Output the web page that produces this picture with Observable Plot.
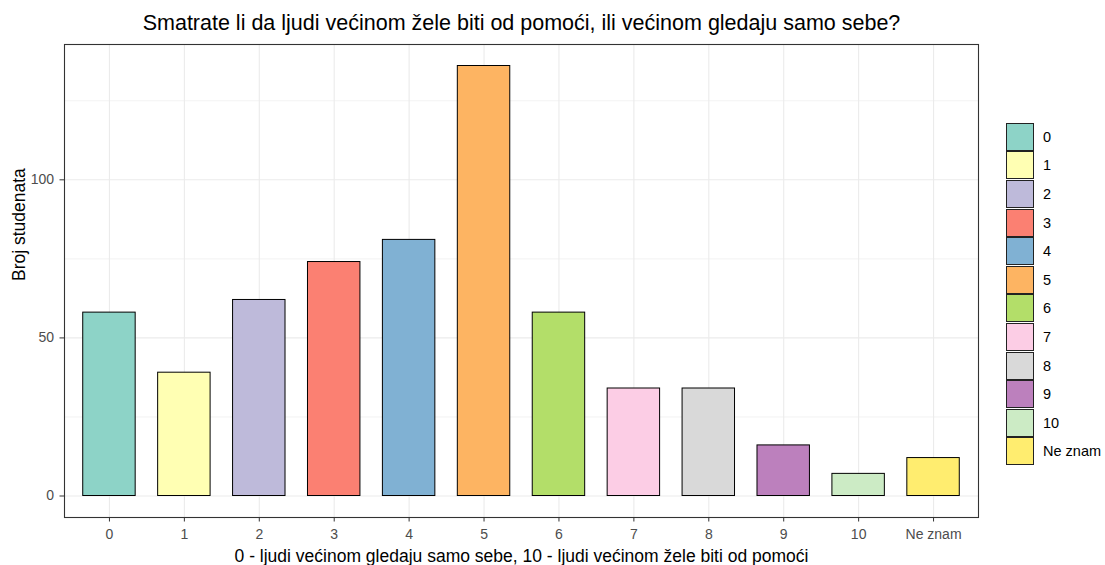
<!DOCTYPE html>
<html><head><meta charset="utf-8">
<script src="https://cdn.jsdelivr.net/npm/d3@7"></script>
<script src="https://cdn.jsdelivr.net/npm/@observablehq/plot@0.6"></script>
<style>
body{margin:0;background:#fff;font-family:"Liberation Sans",Arial,sans-serif;}
#wrap{position:relative;width:1105px;height:565px;}
#legend{position:absolute;left:1006px;top:122.5px;}
.key{display:flex;align-items:center;height:28.6px;}
.sw{box-sizing:border-box;width:28px;height:28px;border:1px solid #222;}
.lab{margin-left:9px;font-size:14.5px;color:#000;}
</style></head><body><div id="wrap"></div>
<script>
const categories = ["0","1","2","3","4","5","6","7","8","9","10","Ne znam"];
const counts = [58,39,62,74,81,136,58,34,34,16,7,12];
const colors = ["#8DD3C7","#FFFFB3","#BEBADA","#FB8072","#80B1D3","#FDB462","#B3DE69","#FCCDE5","#D9D9D9","#BC80BD","#CCEBC5","#FFED6F"];
const yTicks = [0,50,100];
const yMinor = [25,75,125];
const title = "Smatrate li da ljudi većinom žele biti od pomoći, ili većinom gledaju samo sebe?";
const xLabel = "0 - ljudi većinom gledaju samo sebe, 10 - ljudi većinom žele biti od pomoći";
const yLabel = "Broj studenata";

const data = categories.map((c, i) => ({category: c, count: counts[i]}));
const font = '"Liberation Sans", Arial, sans-serif';

const chart = Plot.plot({
  width: 1105, height: 565,
  marginTop: 44, marginBottom: 48, marginLeft: 64, marginRight: 127,
  style: {fontFamily: font, background: "#fff", overflow: "visible"},
  x: {domain: categories, paddingInner: 0.3, paddingOuter: 0.25, round: false, axis: null},
  y: {domain: [-6.8, 142.8], axis: null},
  color: {domain: categories, range: colors},
  marks: [
    Plot.gridY({ticks: yMinor, stroke: "#EBEBEB", strokeOpacity: 1, strokeWidth: 0.6}),
    Plot.gridY({ticks: yTicks, stroke: "#EBEBEB", strokeOpacity: 1, strokeWidth: 1.1}),
    Plot.gridX({stroke: "#EBEBEB", strokeOpacity: 1, strokeWidth: 1.1}),
    Plot.barY(data, {x: "category", y: "count", fill: "category", stroke: "#000", strokeWidth: 1}),
    Plot.frame({stroke: "#333", strokeWidth: 1.1}),
    Plot.axisY({ticks: yTicks, tickSize: 4.5, tickPadding: 6, stroke: "#333", fill: "#4D4D4D", fontSize: 14, label: null}),
    Plot.axisX({tickSize: 4.5, tickPadding: 7, stroke: "#333", fill: "#4D4D4D", fontSize: 14, label: null}),
    Plot.text([title], {frameAnchor: "top", lineAnchor: "top", dy: -30, fontSize: 21.5, fill: "#000", text: d => d}),
    Plot.text([xLabel], {frameAnchor: "bottom", lineAnchor: "top", dy: 32, fontSize: 17.5, fill: "#000", text: d => d}),
    Plot.text([yLabel], {frameAnchor: "left", lineAnchor: "top", rotate: -90, dx: -52, fontSize: 17.5, fill: "#000", text: d => d})
  ]
});
const wrap = document.getElementById("wrap");
wrap.appendChild(chart);

const color = chart.scale("color");
const legend = d3.select(wrap).append("div").attr("id", "legend");
const keys = legend.selectAll(".key").data(categories).join("div").attr("class", "key");
keys.append("div").attr("class", "sw").style("background", d => color.apply(d));
keys.append("span").attr("class", "lab").text(d => d);
</script></body></html>
